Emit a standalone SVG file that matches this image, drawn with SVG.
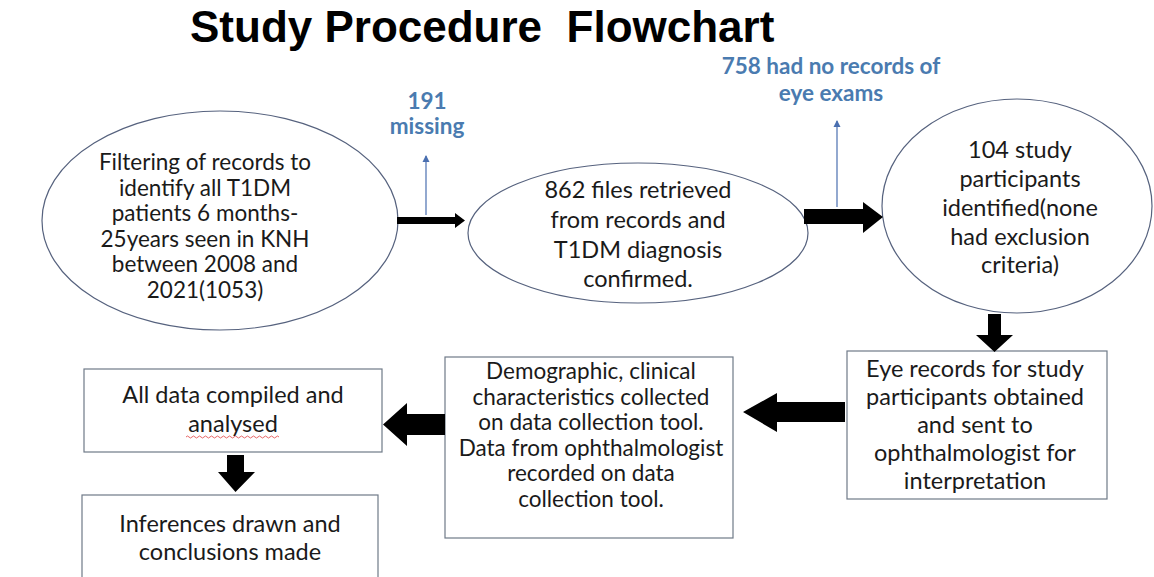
<svg xmlns="http://www.w3.org/2000/svg" width="1154" height="577" viewBox="0 0 1154 577">
<style>
.t{font-family:Lato,"Liberation Sans",sans-serif;font-size:23.5px;fill:#1a1a1a;text-anchor:middle}
.s{font-size:22.5px}
.b{font-family:Lato,"Liberation Sans",sans-serif;font-size:22.5px;font-weight:bold;fill:#4a7bb0;text-anchor:middle}
.ttl{font-family:"Liberation Sans",Arial,sans-serif;font-size:44px;font-weight:bold;fill:#000}
.el{fill:#fff;stroke:#56627e;stroke-width:1.2}
.bx{fill:#fff;stroke:#6f7a88;stroke-width:1.2}
.ar{fill:#000}
.bl{stroke:#4a6fb0;stroke-width:1.2;fill:none}
</style>
<defs>
<marker id="bh" markerWidth="8" markerHeight="8" refX="6" refY="4" orient="auto" markerUnits="userSpaceOnUse">
<path d="M0,0.5 L7,4 L0,7.5 Z" fill="#4a6fb0"/>
</marker>
</defs>
<rect width="1154" height="577" fill="#fff"/>
<text class="ttl" x="190" y="42" xml:space="preserve">Study Procedure  Flowchart</text>

<g id="n1">
<ellipse class="el" cx="220" cy="220.5" rx="178" ry="109.5"/>
<text class="t s"><tspan x="205" y="170">Filtering of records to</tspan><tspan x="205" y="195.5">identify all T1DM</tspan><tspan x="205" y="221">patients 6 months-</tspan><tspan x="205" y="246.5">25years seen in KNH</tspan><tspan x="205" y="272">between 2008 and</tspan><tspan x="205" y="297.5">2021(1053)</tspan></text>
</g>
<g id="n2">
<ellipse class="el" cx="638" cy="233" rx="170" ry="70"/>
<text class="t"><tspan x="638" y="198">862 files retrieved</tspan><tspan x="638" y="228">from records and</tspan><tspan x="638" y="258">T1DM diagnosis</tspan><tspan x="638" y="287">confirmed.</tspan></text>
</g>
<g id="n3">
<ellipse class="el" cx="1017" cy="206" rx="135" ry="107"/>
<text class="t"><tspan x="1020" y="158">104 study</tspan><tspan x="1020" y="187">participants</tspan><tspan x="1020" y="216">identified(none</tspan><tspan x="1020" y="245">had exclusion</tspan><tspan x="1020" y="273">criteria)</tspan></text>
</g>
<g id="n4">
<rect class="bx" x="847" y="351" width="260" height="148"/>
<text class="t"><tspan x="975" y="377">Eye records for study</tspan><tspan x="975" y="405">participants obtained</tspan><tspan x="975" y="433">and sent to</tspan><tspan x="975" y="461">ophthalmologist for</tspan><tspan x="975" y="489">interpretation</tspan></text>
</g>
<g id="n5">
<rect class="bx" x="445" y="357" width="288" height="181"/>
<text class="t s"><tspan x="591" y="379">Demographic, clinical</tspan><tspan x="591" y="404.5">characteristics collected</tspan><tspan x="591" y="430">on data collection tool.</tspan><tspan x="591" y="455.5">Data from ophthalmologist</tspan><tspan x="591" y="481">recorded on data</tspan><tspan x="591" y="506.5">collection tool.</tspan></text>
</g>
<g id="n6">
<rect class="bx" x="84" y="369" width="298" height="83"/>
<text class="t"><tspan x="233" y="403">All data compiled and</tspan><tspan x="233" y="432">analysed</tspan></text>
<path d="M186,437 q1.5,-2 3,0 t3,0 t3,0 t3,0 t3,0 t3,0 t3,0 t3,0 t3,0 t3,0 t3,0 t3,0 t3,0 t3,0 t3,0 t3,0 t3,0 t3,0 t3,0 t3,0 t3,0 t3,0 t3,0 t3,0 t3,0 t3,0 t3,0 t3,0 t3,0 t3,0 t3,0" fill="none" stroke="#e04040" stroke-width="0.8"/>
</g>
<g id="n7">
<rect class="bx" x="82" y="495" width="296" height="100"/>
<text class="t"><tspan x="230" y="532">Inferences drawn and</tspan><tspan x="230" y="560">conclusions made</tspan></text>
</g>
<g id="labels">
<text class="b"><tspan x="427" y="109">191</tspan><tspan x="427" y="134">missing</tspan></text>
<text class="b"><tspan x="831" y="74">758 had no records of</tspan><tspan x="831" y="101">eye exams</tspan></text>
</g>
<g id="connectors">
<polygon class="ar" points="397,217 455,217 455,213 465,220.5 455,228 455,224 397,224"/>
<polygon class="ar" points="804,209 863,209 863,202 883,217 863,233 863,224 804,224"/>
<polygon class="ar" points="988,314 1001,314 1001,335 1013,335 994.5,352 976,335 988,335"/>
<polygon class="ar" points="845,402 777,402 777,393 743,412 777,432 777,422 845,422"/>
<polygon class="ar" points="445,414 407,414 407,403 383,424.5 407,446 407,435 445,435"/>
<polygon class="ar" points="227,455 244,455 244,472 255,472 235.5,492 218,472 227,472"/>
<line class="bl" x1="426" y1="215" x2="426" y2="156" marker-end="url(#bh)"/>
<line class="bl" x1="837" y1="207" x2="837" y2="121" marker-end="url(#bh)"/>
</g>
</svg>
